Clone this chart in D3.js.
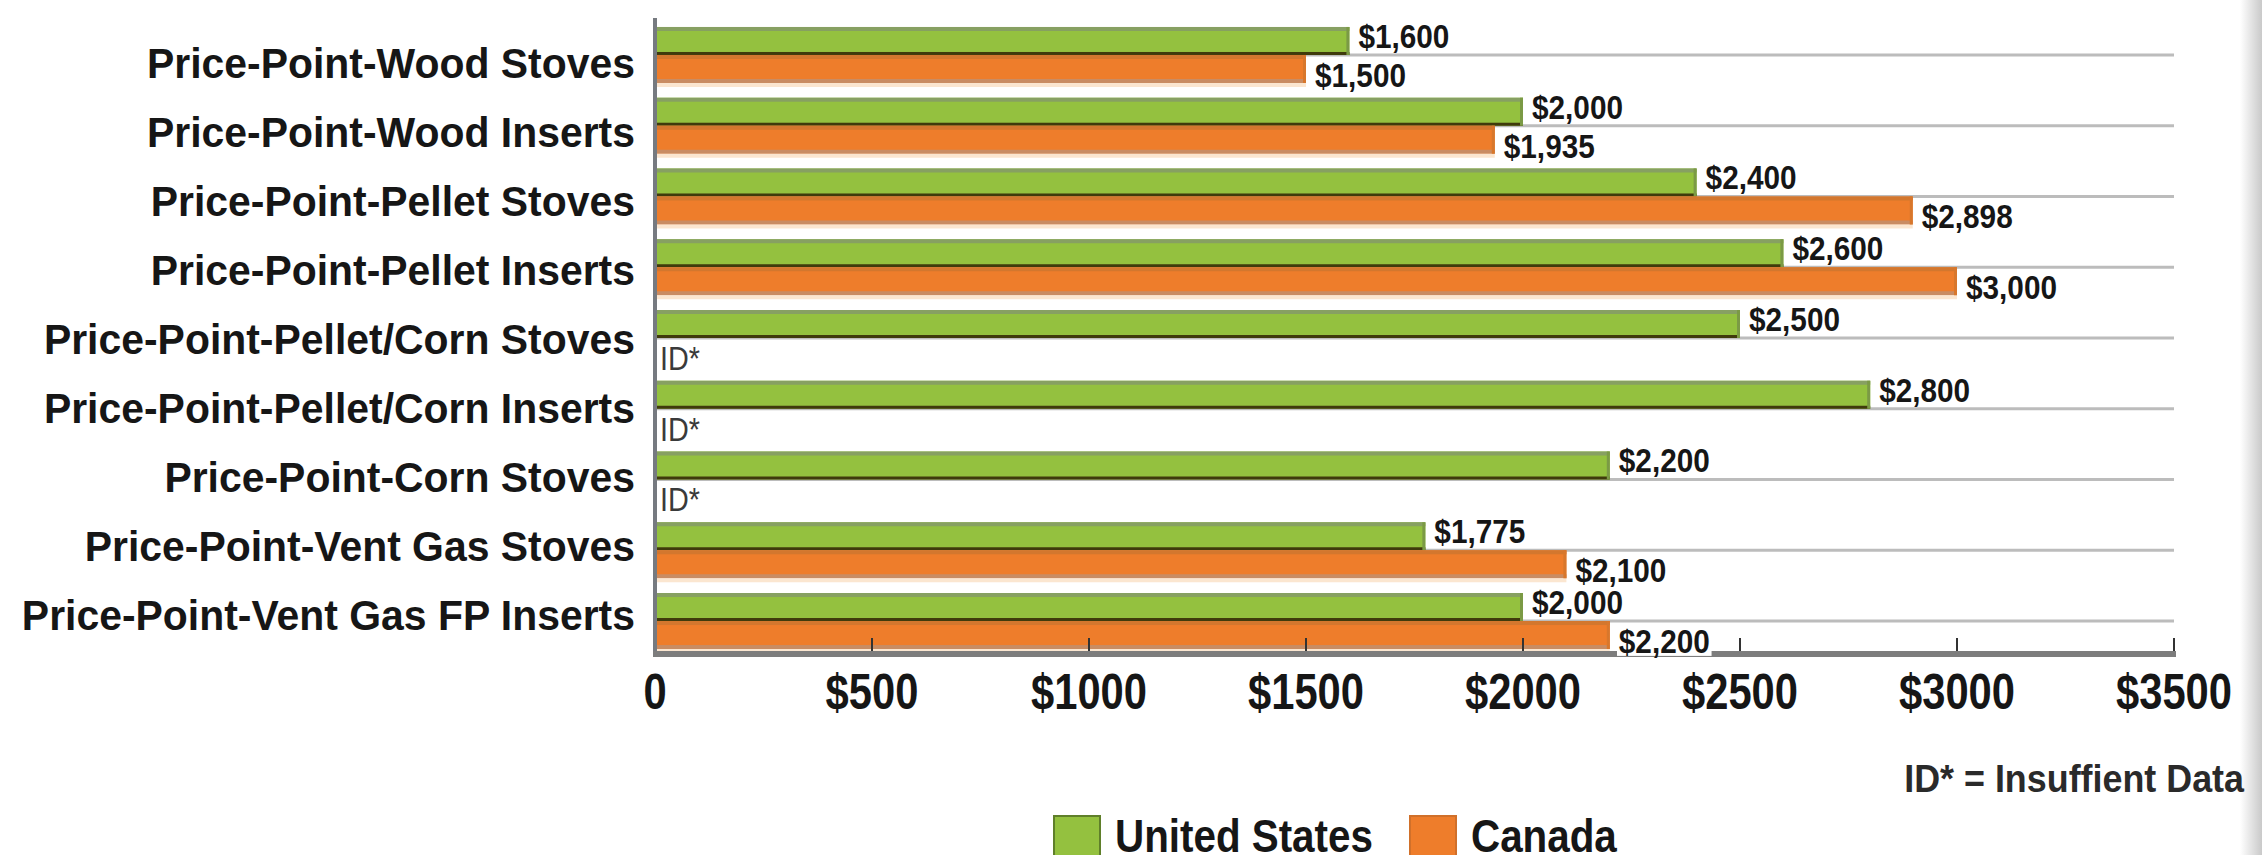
<!DOCTYPE html>
<html lang="en">
<head>
<meta charset="UTF-8">
<title>Price-Point bar chart</title>
<style>
  body { margin: 0; background: #fff; }
  svg text {
    font-family: 'Liberation Sans', Arial, 'DejaVu Sans', sans-serif;
    font-weight: bold;
    fill: #161616;
  }
</style>
</head>
<body>
<script src="https://d3js.org/d3.v7.min.js"></script>
<script>
// data
const categories = [
  "Price-Point-Wood Stoves",
  "Price-Point-Wood Inserts",
  "Price-Point-Pellet Stoves",
  "Price-Point-Pellet Inserts",
  "Price-Point-Pellet/Corn Stoves",
  "Price-Point-Pellet/Corn Inserts",
  "Price-Point-Corn Stoves",
  "Price-Point-Vent Gas Stoves",
  "Price-Point-Vent Gas FP Inserts"
];
const usValues = [1600, 2000, 2400, 2600, 2500, 2800, 2200, 1775, 2000];
const caValues = [1500, 1935, 2898, 3000, null, null, null, 2100, 2200];
const seriesNames = ["United States", "Canada"];
const xTicks = [0, 500, 1000, 1500, 2000, 2500, 3000, 3500];
const tickLabels = ["0", "$500", "$1000", "$1500", "$2000", "$2500", "$3000", "$3500"];
const missingText = "ID*";
const footnote = "ID* = Insuffient Data";

const W = 2262, H = 855;
const green = "#94c13f", orange = "#ee7d2b";

const svg = d3.select("body").append("svg")
  .attr("width", W).attr("height", H);

svg.append("rect").attr("width", W).attr("height", H).attr("fill", "#fff");

// grey fade on the right edge of the scan
const grad = svg.append("defs").append("linearGradient").attr("id", "edge");
grad.append("stop").attr("offset", "0").attr("stop-color", "#fff");
grad.append("stop").attr("offset", "1").attr("stop-color", "#c9c9c9");
svg.append("rect").attr("x", 2240).attr("y", 0).attr("width", 22).attr("height", H)
  .attr("fill", "url(#edge)");

const x = d3.scaleLinear().domain([0, 3500]).range([655, 2174]);
const yb = d3.scaleBand().domain(categories).range([19.6, 656.4])
  .paddingInner(0.2085).paddingOuter(0.1043);
const yi = d3.scaleBand().domain(["us", "ca"]).range([0, yb.bandwidth()]);
const yLabel = d3.scalePoint().domain(categories).range([62, 614]);

// squeeze the local font horizontally so it fills the same width as the original condensed face
function stretch(sample, size, target, weight) {
  const t = svg.append("text").attr("font-size", size).text(sample);
  if (weight) t.style("font-weight", weight);
  const w = t.node().getComputedTextLength();
  t.remove();
  return target / w;
}

const rows = categories.map((c, i) => ({ cat: c, us: usValues[i], ca: caValues[i] }));

// gridlines through the middle of each group
svg.append("g").selectAll("line").data(categories).join("line")
  .attr("x1", x(0)).attr("x2", x(3500))
  .attr("y1", d => yb(d) + yb.bandwidth() / 2)
  .attr("y2", d => yb(d) + yb.bandwidth() / 2)
  .attr("stroke", "#bcbcbc").attr("stroke-width", 3);

// bars
const bars = [];
rows.forEach(r => {
  if (r.us != null) bars.push({ cat: r.cat, key: "us", v: r.us });
  if (r.ca != null) bars.push({ cat: r.cat, key: "ca", v: r.ca });
});

const bh = yi.bandwidth();
const bg = svg.append("g").selectAll("g").data(bars).join("g")
  .attr("transform", d => `translate(${x(0)},${yb(d.cat) + yi(d.key)})`);

bg.append("rect")
  .attr("width", d => x(d.v) - x(0)).attr("height", bh)
  .attr("fill", d => d.key === "us" ? green : orange);
// top shade
bg.append("rect")
  .attr("width", d => x(d.v) - x(0)).attr("height", 4)
  .attr("fill", d => d.key === "us" ? "#87a062" : "#d3772e");
// bottom edge
bg.append("rect")
  .attr("y", d => d.key === "us" ? bh - 3 : bh - 4)
  .attr("width", d => x(d.v) - x(0)).attr("height", d => d.key === "us" ? 3 : 4)
  .attr("fill", d => d.key === "us" ? "#3f3a0c" : "#c98c63");
// light reflection under the orange bars
bg.filter(d => d.key === "ca").append("rect")
  .attr("y", bh).attr("width", d => x(d.v) - x(0)).attr("height", 4)
  .attr("fill", "#fbe6d0");
// darker end cap
bg.append("rect")
  .attr("x", d => x(d.v) - x(0) - 3).attr("width", 3).attr("height", bh)
  .attr("fill", d => d.key === "us" ? "#7b9a45" : "#d8772c");

// axes
svg.append("line")
  .attr("x1", x(0)).attr("x2", x(0)).attr("y1", 18).attr("y2", 657)
  .attr("stroke", "#767a80").attr("stroke-width", 4);
svg.append("line")
  .attr("x1", x(0) - 2).attr("x2", x(3500) + 2).attr("y1", 654).attr("y2", 654)
  .attr("stroke", "#7d7d7d").attr("stroke-width", 6);
svg.append("g").selectAll("line").data(xTicks.slice(1)).join("line")
  .attr("x1", d => x(d)).attr("x2", d => x(d)).attr("y1", 638).attr("y2", 651)
  .attr("stroke", "#333").attr("stroke-width", 2);

const tickSx = stretch("$2500", 50, 116);
svg.append("g").selectAll("text").data(xTicks).join("text")
  .attr("transform", d => `translate(${x(d)},709) scale(${tickSx},1)`)
  .attr("text-anchor", "middle").attr("font-size", 50)
  .text((d, i) => tickLabels[i]);

// category labels
const catSx = stretch(categories[0], 43, 488);
svg.append("g").selectAll("text").data(categories).join("text")
  .attr("transform", d => `translate(635,${yLabel(d) + 15.5}) scale(${catSx},1)`)
  .attr("text-anchor", "end").attr("font-size", 43)
  .text(d => d);

// value labels on white boxes
const fmt = d3.format("$,");
const valSize = 33, valCap = valSize * 0.72;
const valSx = stretch("$1,600", valSize, 91);
const vl = svg.append("g").selectAll("g").data(bars).join("g")
  .attr("transform", d => {
    const cy = yb(d.cat) + yi(d.key) + bh / 2 + (d.key === "us" ? -5 : 6);
    return `translate(${x(d.v) + 9},${cy}) scale(${valSx},1)`;
  });
vl.append("rect").attr("fill", "#fff")
  .attr("y", -valCap / 2 - 3).attr("height", valCap + 6).attr("x", -2);
vl.append("text").attr("font-size", valSize)
  .attr("y", valCap / 2).text(d => fmt(d.v))
  .each(function () {
    d3.select(this.previousSibling).attr("width", this.getComputedTextLength() + 4);
  });

// missing data marks
const idSize = 33;
const idSx = stretch(missingText, idSize, 40, "normal");
svg.append("g").selectAll("text").data(rows.filter(r => r.ca == null)).join("text")
  .attr("transform", d => `translate(660,${yb(d.cat) + yi("ca") + bh / 2 + 6 + idSize * 0.36}) scale(${idSx},1)`)
  .attr("font-size", idSize).style("font-weight", "normal").style("fill", "#3a3a3a")
  .text(missingText);

// footnote
const fnSx = stretch(footnote, 38, 340);
svg.append("text")
  .attr("transform", `translate(2244,792) scale(${fnSx},1)`)
  .attr("text-anchor", "end").attr("font-size", 38).style("fill", "#2a2a2a")
  .text(footnote);

// legend
const legSize = 47;
const legSx = stretch(seriesNames[0], legSize, 258);
const legX = [1053, 1409];
const legend = svg.append("g").selectAll("g").data(seriesNames).join("g")
  .attr("transform", (d, i) => `translate(${legX[i]},815)`);
legend.append("rect")
  .attr("x", 1).attr("y", 1)
  .attr("width", 46).attr("height", 44)
  .attr("fill", (d, i) => i === 0 ? green : orange)
  .attr("stroke", (d, i) => i === 0 ? "#5f7f2a" : "#d0702a").attr("stroke-width", 2);
legend.append("text")
  .attr("transform", `translate(62,37) scale(${legSx},1)`)
  .attr("font-size", legSize)
  .text(d => d);
</script>
</body>
</html>
